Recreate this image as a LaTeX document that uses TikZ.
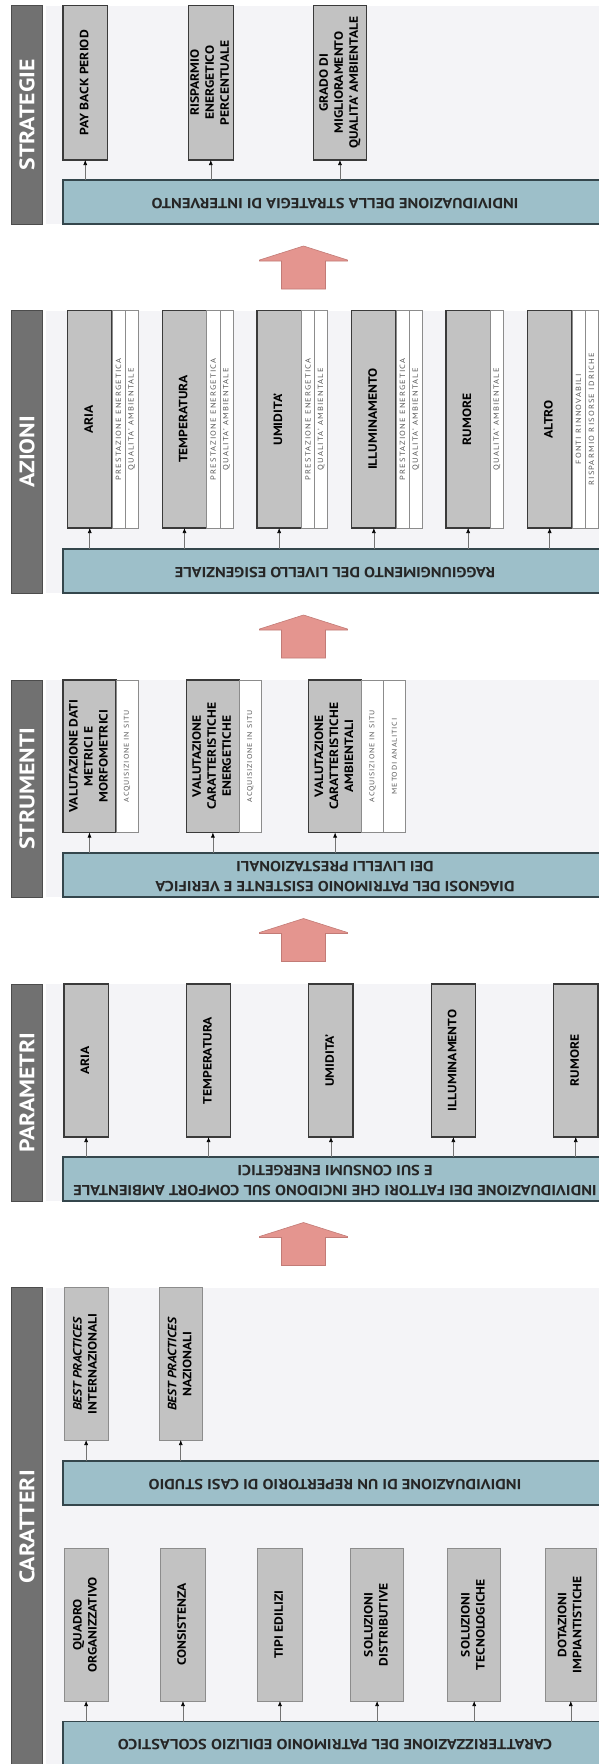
\documentclass[tikz,border=0pt]{standalone}
\usepackage{graphicx}
\usepackage{fontspec}
\setmainfont{PT Sans}[FakeStretch=1.13]
\usetikzlibrary{arrows.meta}

\definecolor{grigiotitolo}{HTML}{717171}
\definecolor{grigiobordo}{HTML}{3A3A3A}
\definecolor{grigiocasella}{HTML}{C2C2C2}
\definecolor{fondochiaro}{HTML}{F4F4F7}
\definecolor{azzurro}{HTML}{9DBFC9}
\definecolor{bordoazzurro}{HTML}{34464C}
\definecolor{salmone}{HTML}{E4958F}
\definecolor{bordosalmone}{HTML}{C27B76}

\begin{document}
\begin{tikzpicture}[x=1pt, y=-1pt,
	fondo/.style={fill=fondochiaro},
	titolo/.style={draw=black!70, fill=grigiotitolo, line width=0.8pt, text=white,
		minimum width=31pt, inner sep=0pt, outer sep=0pt,
		font=\fontsize{21}{21}\selectfont\bfseries},
	casella/.style={draw=grigiobordo, fill=grigiocasella, line width=1.3pt,
		inner sep=0pt, outer sep=0pt, font=\fontsize{12}{15}\selectfont\bfseries},
	casellachiara/.style={casella, draw=black!45, line width=1pt},
	striscia/.style={draw=black!45, fill=white, line width=0.6pt, inner sep=0pt,
		outer sep=0pt, text=black!65,
		font=\fontsize{7.5}{8}\selectfont\addfontfeature{LetterSpace=15}},
	strisciastretta/.style={striscia,
		font=\fontsize{7}{8}\selectfont\addfontfeature{LetterSpace=12}},
	barra/.style={draw=bordoazzurro, fill=azzurro, line width=1.3pt,
		minimum width=544pt, minimum height=44pt, inner sep=0pt, outer sep=0pt,
		text=black!85, font=\fontsize{14.5}{20}\selectfont\bfseries},
	freccina/.style={draw=black!55, line width=0.6pt, -{Latex[length=5pt,width=4pt,black]}},
	freccione/.style={fill=salmone, draw=bordosalmone, line width=0.6pt},
	]
	
	%% riquadro pagina ---------------------------------------
	\useasboundingbox (0,0) rectangle (599,1764);
	\clip (0,0) rectangle (599,1764);
	\fill[white] (0,0) rectangle (599,1764);
	
	%% macro ---------------------------------------------------
	%% fascia: nome, y alto, y basso, titolo
	\newcommand{\fascia}[4]{%
		\fill[fondo](46,#2) rectangle (599,#3);
		\node[titolo, minimum height={#3pt-#2pt}, anchor=north west](#1) at (11.5,#2)
		{\rotatebox{90}{#4}};}
	\newcommand{\ruota}[1]{\rotatebox{90}{\begin{tabular}{@{}c@{}}#1\end{tabular}}}
	\newcommand{\capovolto}[1]{\rotatebox{180}{\begin{tabular}{@{}c@{}}#1\end{tabular}}}
	%% striscia bianca: stile, nome, a destra di, larghezza, altezza, testo
	\newcommand{\striscia}[6]{%
		\node[#1, minimum width=#4pt, minimum height=#5pt, anchor=north west]
		(#2) at (#3.north east) {\rotatebox{90}{#6}};}
	%% freccia rossa tra le fasce (y della punta)
	\newcommand{\freccione}[1]{%
		\draw[freccione](303.5,#1)--(347.5,#1+14)--(347.5,#1+15)--(325.5,#1+15)
		--(325.5,#1+43)--(281.5,#1+43)--(281.5,#1+15)--(259.5,#1+15)
		--(259.5,#1+14)--cycle;}
	
	%% =========================================================
	%% STRATEGIE
	%% =========================================================
	\fascia{tS}{5.5}{224}{STRATEGIE}
	\node[casella, minimum width=44.5pt, minimum height=154.5pt, anchor=north west]
	(s0) at (63,5.5) {\ruota{PAY BACK PERIOD}};
	\node[casella, minimum width=45pt, minimum height=154.5pt, anchor=north west]
	(s1) at (188.3,5.5) {\ruota{RISPARMIO\\ENERGETICO\\PERCENTUALE}};
	\node[casella, minimum width=53.5pt, minimum height=154.5pt, anchor=north west]
	(s2) at (313.2,5.5) {\ruota{GRADO DI\\MIGLIORAMENTO\\QUALITA' AMBIENTALE}};
	\node[barra, anchor=north west](sb) at (63,180)
	{\capovolto{INDIVIDUAZIONE DELLA STRATEGIA DI INTERVENTO}};
	\foreach \c in {s0,s1,s2} \draw[freccina](\c.south |- sb.north)--(\c.south);
	
	\freccione{246}
	
	%% =========================================================
	%% AZIONI
	%% =========================================================
	\fascia{tA}{310.5}{593}{AZIONI}
	\foreach \t [count=\i from 0] in {ARIA,TEMPERATURA,UMIDITA',ILLUMINAMENTO}{
		\node[casella, minimum width=44.3pt, minimum height=217.5pt, anchor=north west]
		(a\i) at ({67.6+94.7*\i},310.5) {\ruota{\t}};
		\striscia{striscia}{pa\i}{a\i}{13.2}{217.5}{PRESTAZIONE ENERGETICA}
		\striscia{striscia}{qa\i}{pa\i}{13.2}{217.5}{QUALITA' AMBIENTALE}}
	\node[casella, minimum width=44.3pt, minimum height=217.5pt, anchor=north west]
	(a4) at (446,310.5) {\ruota{RUMORE}};
	\striscia{striscia}{qa4}{a4}{13.2}{217.5}{QUALITA' AMBIENTALE}
	\node[casella, minimum width=44.3pt, minimum height=217.5pt, anchor=north west]
	(a5) at (527.5,310.5) {\ruota{ALTRO}};
	\striscia{striscia}{fa5}{a5}{13.2}{217.5}{FONTI RINNOVABILI}
	\striscia{striscia}{ra5}{fa5}{13.2}{217.5}{RISPARMIO RISORSE IDRICHE}
	\node[barra, anchor=north west](ab) at (63,549)
	{\capovolto{RAGGIUNGIMENTO DEL LIVELLO ESIGENZIALE}};
	\foreach \i in {0,...,5} \draw[freccina](a\i.south |- ab.north)--(a\i.south);
	
	\freccione{615}
	
	%% =========================================================
	%% STRUMENTI
	%% =========================================================
	\fascia{tT}{680}{897}{STRUMENTI}
	\node[casella, minimum width=53pt, minimum height=152.5pt, anchor=north west]
	(t0) at (63,680) {\ruota{VALUTAZIONE DATI\\METRICI E\\MORFOMETRICI}};
	\node[casella, minimum width=53pt, minimum height=152.5pt, anchor=north west]
	(t1) at (186.4,680) {\ruota{VALUTAZIONE\\CARATTERISTICHE\\ENERGETICHE}};
	\node[casella, minimum width=53pt, minimum height=152.5pt, anchor=north west]
	(t2) at (308.6,680) {\ruota{VALUTAZIONE\\CARATTERISTICHE\\AMBIENTALI}};
	\foreach \i in {0,1,2}{%
		\striscia{strisciastretta}{ct\i}{t\i}{21.8}{152.5}{ACQUISIZIONE IN SITU}}
	\striscia{strisciastretta}{mt2}{ct2}{21.8}{152.5}{METODI ANALITICI}
	\node[barra, anchor=north west](tb) at (63,853)
	{\capovolto{DIAGNOSI DEL PATRIMONIO ESISTENTE E VERIFICA\\DEI LIVELLI PRESTAZIONALI}};
	\foreach \i in {0,1,2} \draw[freccina](t\i.south |- tb.north)--(t\i.south);
	
	\freccione{918.5}
	
	%% =========================================================
	%% PARAMETRI
	%% =========================================================
	\fascia{tP}{984}{1201}{PARAMETRI}
	\foreach \t [count=\i from 0] in {ARIA,TEMPERATURA,UMIDITA',ILLUMINAMENTO,RUMORE}
	\node[casella, minimum width=44.3pt, minimum height=153pt, anchor=north west]
	(p\i) at ({64+122.4*\i},984) {\ruota{\t}};
	\node[barra, anchor=north west](pb) at (63,1157)
	{\capovolto{INDIVIDUAZIONE DEI FATTORI CHE INCIDONO SUL COMFORT AMBIENTALE\\E SUI CONSUMI ENERGETICI}};
	\foreach \i in {0,...,4} \draw[freccina](p\i.south |- pb.north)--(p\i.south);
	
	\freccione{1222.5}
	
	%% =========================================================
	%% CARATTERI
	%% =========================================================
	\fascia{tC}{1287.5}{1766}{CARATTERI}
	%% casi studio
	\node[casellachiara, minimum width=44.3pt, minimum height=152.5pt, anchor=north west]
	(c0) at (64,1287.5) {\ruota{\textit{BEST PRACTICES}\\INTERNAZIONALI}};
	\node[casellachiara, minimum width=43.5pt, minimum height=152.5pt, anchor=north west]
	(c1) at (159,1287.5) {\ruota{\textit{BEST PRACTICES}\\NAZIONALI}};
	\node[barra, anchor=north west](cb) at (63,1461)
	{\capovolto{INDIVIDUAZIONE DI UN REPERTORIO DI CASI STUDIO}};
	\foreach \i in {0,1} \draw[freccina](c\i.south |- cb.north)--(c\i.south);
	%% patrimonio scolastico
	\foreach \x/\w/\t [count=\i from 0] in {
		64/44.3/QUADRO\\ORGANIZZATIVO,
		160.8/44.3/CONSISTENZA,
		257.8/44.3/TIPI EDILIZI,
		350.6/53/SOLUZIONI\\DISTRIBUTIVE,
		447.9/52.6/SOLUZIONI\\TECNOLOGICHE,
		545/51.6/DOTAZIONI\\IMPIANTISTICHE}
	\node[casellachiara, minimum width=\w pt, minimum height=152.5pt, anchor=north west]
	(d\i) at (\x,1548.5) {\ruota{\t}};
	\node[barra, anchor=north west](db) at (63,1721.5)
	{\capovolto{CARATTERIZZAZIONE DEL PATRIMONIO EDILIZIO SCOLASTICO}};
	\foreach \i in {0,...,5} \draw[freccina](d\i.south |- db.north)--(d\i.south);
	
\end{tikzpicture}
\end{document}
